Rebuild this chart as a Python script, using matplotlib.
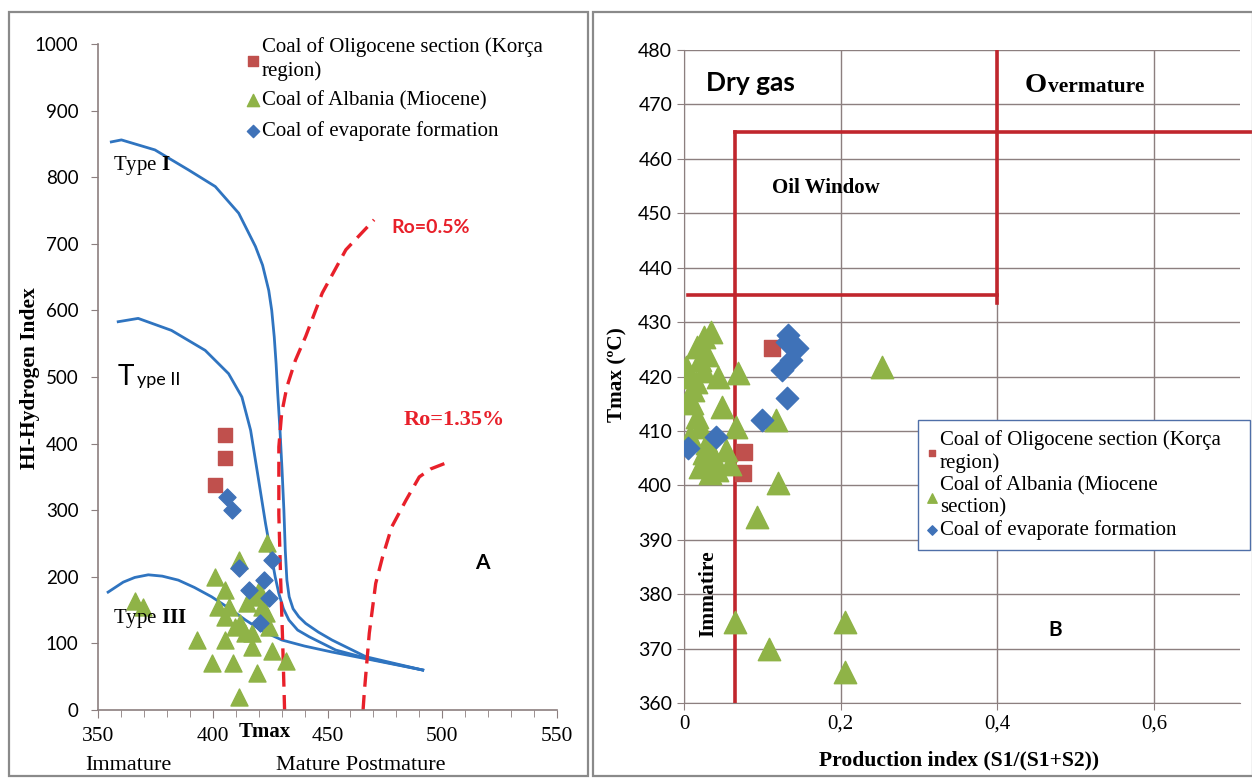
import numpy as np
import matplotlib.pyplot as plt
from matplotlib.patches import Rectangle

plt.rcParams['mathtext.fontset'] = 'custom'
plt.rcParams['mathtext.rm'] = 'Liberation Serif'
plt.rcParams['mathtext.bf'] = 'Liberation Serif:bold'

SERIF = 'Liberation Serif'
SANS = 'Lato'

# ---------------- panel A : HI vs Tmax ----------------
type1_t = [355.8, 360.2, 374.8, 389.4, 401.1, 411.3, 418.6, 421.7, 424.4, 425.7, 426.8, 427.6,
           428.3, 429.3, 430.2, 431.0, 431.6, 432.3, 433.3, 435.0, 437.5, 440.5, 446.0, 452.0,
           466.7, 491.5]
type1_hi = [853, 856, 841, 811, 786, 746, 696, 668, 630, 600, 560, 520,
            476, 420, 360, 300, 240, 195, 170, 152, 140, 130, 117, 105,
            80, 60]

type2_t = [358.8, 367.5, 382.0, 396.7, 406.9, 412.7, 416.5, 420.0, 423.0, 425.3, 427.2, 428.8,
           430.8, 433.2, 437.0, 442.0, 453.6, 466.7, 491.5]
type2_hi = [583, 588, 570, 540, 505, 470, 420, 345, 280, 236, 200, 175,
            152, 135, 120, 110, 90, 78, 60]

type3_t = [354.4, 361.0, 366.0, 371.9, 378.0, 385.0, 392.0, 399.5, 407.0, 414.3, 422.0, 430.2,
           440.0, 452.0, 466.7, 491.5]
type3_hi = [177, 192, 199, 203, 201, 195, 184, 170, 153, 135, 118, 105,
            96, 87, 77, 60]

ro05_t = [431.3, 430.5, 429.6, 428.8, 428.8, 430.0, 432.3, 436.0, 440.5, 447.7, 458.0, 470.3]
ro05_hi = [0, 98, 195, 293, 395, 445, 485, 525, 561, 626, 691, 736]

ro135_t = [465.5, 466.0, 468.2, 471.0, 474.0, 478.0, 484.2, 490.0, 495.0, 501.7]
ro135_hi = [0, 25, 115, 190, 230, 275, 315, 350, 362, 371]

a_olig_t = [405.4, 405.4, 401.0]
a_olig_hi = [413, 378, 338]

a_mio_t = [366.0, 369.7, 401.0, 405.4, 423.6, 411.3, 402.5, 405.4, 393.0, 405.4, 399.6, 409.0,
           419.3, 411.3, 425.8, 431.7, 417.0, 418.6, 423.0, 409.8, 414.2, 407.0, 421.5, 417.0,
           424.4, 412.0, 420.0, 415.0]
a_mio_hi = [163, 155, 200, 180, 251, 225, 155, 140, 105, 105, 70, 70,
            55, 20, 88, 73, 95, 170, 145, 125, 115, 155, 155, 115,
            125, 130, 180, 160]

a_evap_t = [406.2, 408.3, 411.3, 425.8, 422.2, 415.6, 424.4, 420.8]
a_evap_hi = [320, 300, 213, 225, 195, 180, 168, 131]

# ---------------- panel B : Tmax vs PI ----------------
b_olig_pi = [0.112, 0.077, 0.075]
b_olig_t = [425.2, 406.2, 402.3]

b_mio_pi = [0.035, 0.025, 0.016, 0.030, 0.020, 0.003, 0.008, 0.044, 0.069, 0.012, 0.005, 0.048,
            0.010, 0.016, 0.118, 0.067, 0.020, 0.029, 0.054, 0.020, 0.042, 0.059, 0.120, 0.093,
            0.025, 0.033, 0.008, 0.253, 0.065, 0.108, 0.205, 0.205, 0.038, 0.015, 0.026]
b_mio_t = [428.2, 427.3, 425.5, 424.0, 423.0, 421.8, 420.0, 420.0, 420.6, 417.5, 416.0, 414.4,
           415.1, 412.6, 412.0, 410.8, 410.8, 407.7, 406.5, 403.4, 402.8, 404.0, 400.4, 394.2,
           405.9, 402.2, 409.0, 421.8, 374.9, 370.0, 374.9, 365.7, 405.0, 419.0, 421.0]

b_evap_pi = [0.0055, 0.041, 0.099, 0.131, 0.125, 0.133, 0.144, 0.137, 0.131]
b_evap_t = [406.8, 408.9, 412.0, 416.0, 421.2, 427.6, 425.2, 423.0, 426.4]

lab_olig = 'Coal of Oligocene section (Korça\nregion)'
lab_mio_a = 'Coal of Albania (Miocene)'
lab_mio_b = 'Coal of Albania (Miocene\nsection)'
lab_evap = 'Coal of evaporate formation'

RED_SQ = '#C0504D'
GREEN = '#8FB347'
BLUE_D = '#3F72B8'
CURVE = '#2F74C0'
AXC = '#8C7F7F'

fig = plt.figure(figsize=(12.52, 7.78), dpi=100)
W, H = 1252, 778

# panel frames
fig.patches.append(Rectangle((9 / W, 2 / H), 579 / W, 764 / H, transform=fig.transFigure,
                             fill=False, edgecolor='#8a8a8a', lw=1.6))
fig.patches.append(Rectangle((593 / W, 2 / H), 660 / W, 764 / H, transform=fig.transFigure,
                             fill=False, edgecolor='#8a8a8a', lw=1.6))

# ---------- A ----------
ax1 = fig.add_axes([98 / W, 68 / H, 459 / W, 666 / H])
ax1.plot(type1_t, type1_hi, color=CURVE, lw=2)
ax1.plot(type2_t, type2_hi, color=CURVE, lw=2)
ax1.plot(type3_t, type3_hi, color=CURVE, lw=2)
ax1.plot(ro05_t, ro05_hi, color='#E8202A', lw=2.4, dashes=(4.5, 2.5))
ax1.plot(ro135_t, ro135_hi, color='#E8202A', lw=2.4, dashes=(4.5, 2.5))

ax1.scatter(a_olig_t, a_olig_hi, marker='s', s=110, color=RED_SQ, label=lab_olig, zorder=3)
ax1.scatter(a_mio_t, a_mio_hi, marker='^', s=150, color=GREEN, label=lab_mio_a, zorder=3)
ax1.scatter(a_evap_t, a_evap_hi, marker='D', s=75, color=BLUE_D, label=lab_evap, zorder=4)

ax1.set_xlim(350, 550)
ax1.set_ylim(0, 1000)
ax1.set_xticks(np.arange(350, 551, 50))
ax1.set_xticks(np.arange(350, 551, 10), minor=True)
ax1.set_yticks(np.arange(0, 1001, 100))
for s in ['top', 'right']:
    ax1.spines[s].set_visible(False)
for s in ['left', 'bottom']:
    ax1.spines[s].set_color(AXC)
    ax1.spines[s].set_linewidth(1.2)
ax1.tick_params(axis='both', which='both', color=AXC, direction='out')
ax1.tick_params(axis='x', which='major', length=6, pad=6)
ax1.tick_params(axis='x', which='minor', length=5)
ax1.tick_params(axis='y', length=5, pad=9)
for t in ax1.get_xticklabels():
    t.set_fontfamily(SERIF)
    t.set_fontsize(15.5)
for t in ax1.get_yticklabels():
    t.set_fontfamily(SANS)
    t.set_fontsize(13.5)

leg1 = ax1.legend(loc='upper left', bbox_to_anchor=(0.325, 1.01), frameon=False,
                  prop={'family': SERIF, 'size': 15}, handlelength=0.55, handletextpad=0.15,
                  labelspacing=0.5, borderpad=0, borderaxespad=0, markerscale=0.72)
for t in leg1.get_texts():
    t.set_linespacing(1.25)

ax1.text(356.6, 818, 'Type $\\mathbf{I}$', family=SERIF, fontsize=15, va='center', ha='left')
ax1.text(358.5, 488, 'T', family=SANS, fontsize=20, va='baseline', ha='left')
ax1.text(366.8, 488, 'ype II', family=SANS, fontsize=13, va='baseline', ha='left')
ax1.text(356.6, 138, 'Type $\\mathbf{III}$', family=SERIF, fontsize=15, va='center', ha='left')
ax1.text(495.0, 724, 'Ro=0.5%', family=SANS, fontweight='bold', fontsize=14,
         color='#E8202A', ha='center', va='center')
ax1.text(505.4, 435, 'Ro=1.35%', family=SERIF, fontweight='bold', fontsize=16,
         color='#E8202A', ha='center', va='center')
ax1.text(517.6, 221, 'A', family=SANS, fontweight='bold', fontsize=15, ha='center', va='center')

fig.text(265 / W, 1 - 732 / H, 'Tmax', family=SERIF, fontweight='bold', fontsize=15,
         ha='center', va='center')
fig.text(30 / W, 1 - 378 / H, 'HI-Hydrogen Index', family=SERIF, fontweight='bold',
         fontsize=15.5, rotation=90, ha='center', va='center')
fig.text(128 / W, 1 - 766 / H, 'Immature', family=SERIF, fontsize=16, ha='center', va='center')
fig.text(361 / W, 1 - 766 / H, 'Mature Postmature', family=SERIF, fontsize=16,
         ha='center', va='center')

# ---------- B ----------
ax2 = fig.add_axes([684 / W, 75 / H, 556 / W, 653 / H])
ax2.set_xlim(0, 0.71)
ax2.set_ylim(360, 480)
ax2.set_xticks([0, 0.2, 0.4, 0.6])
ax2.set_xticklabels(['0', '0,2', '0,4', '0,6'])
ax2.set_yticks(np.arange(360, 481, 10))
ax2.grid(True, color=AXC, lw=1)
ax2.set_axisbelow(True)
for s in ['top', 'right']:
    ax2.spines[s].set_visible(False)
for s in ['left', 'bottom']:
    ax2.spines[s].set_color(AXC)
ax2.tick_params(axis='both', color=AXC, direction='out', length=5)
for t in ax2.get_xticklabels():
    t.set_fontfamily(SERIF)
    t.set_fontsize(15)
for t in ax2.get_yticklabels():
    t.set_fontfamily(SANS)
    t.set_fontsize(14)

LRED = '#C0262D'
ax2.plot([0.065, 0.065], [360, 465], color=LRED, lw=2.6, zorder=2)
ax2.plot([0.065, 0.727], [465, 465], color=LRED, lw=2.6, zorder=2, clip_on=False)
ax2.plot([0.40, 0.40], [433.5, 480], color=LRED, lw=2.6, zorder=2)
ax2.plot([0.005, 0.40], [435, 435], color=LRED, lw=2.6, zorder=2)

ax2.scatter(b_olig_pi, b_olig_t, marker='s', s=140, color=RED_SQ, label=lab_olig, zorder=3)
ax2.scatter(b_mio_pi, b_mio_t, marker='^', s=260, color=GREEN, label=lab_mio_b, zorder=3)
ax2.scatter(b_evap_pi, b_evap_t, marker='D', s=130, color=BLUE_D, label=lab_evap, zorder=4)

leg = ax2.legend(loc='upper left', bbox_to_anchor=(0.421, 0.219, 0.597, 0.214), mode='expand',
                 frameon=True, fancybox=False,
                 prop={'family': SERIF, 'size': 15}, handlelength=0.45, handletextpad=0.15,
                 labelspacing=0.15, borderpad=0.45, borderaxespad=0, markerscale=0.42,
                 framealpha=1)
leg.get_frame().set_edgecolor('#4F6FA8')
leg.get_frame().set_linewidth(1)
leg.set_clip_on(False)
for t in leg.get_texts():
    t.set_linespacing(1.22)

ax2.text(0.028, 473.9, 'Dry gas', family=SANS, fontweight='bold', fontsize=19, va='center')
ax2.text(0.4355, 472.3, 'O', family=SERIF, fontweight='bold', fontsize=20.5, va='baseline')
ax2.text(0.465, 472.3, 'vermature', family=SERIF, fontweight='bold', fontsize=15.5,
         va='baseline')
ax2.text(0.112, 454.6, 'Oil Window', family=SERIF, fontweight='bold', fontsize=15,
         va='center')
ax2.text(0.031, 380.0, 'Immatire', family=SERIF, fontweight='bold', fontsize=15.5,
         rotation=90, ha='center', va='center')
ax2.text(0.474, 373.4, 'B', family=SANS, fontweight='bold', fontsize=15, ha='center',
         va='center')

fig.text(617 / W, 1 - 375 / H, 'Tmax (ºC)', family=SERIF, fontweight='bold', fontsize=15.3,
         rotation=90, ha='center', va='center')
fig.text(959 / W, 1 - 760 / H, 'Production index (S1/(S1+S2))', family=SERIF,
         fontweight='bold', fontsize=15.6, ha='center', va='center')

fig.savefig('out.png', dpi=100)
